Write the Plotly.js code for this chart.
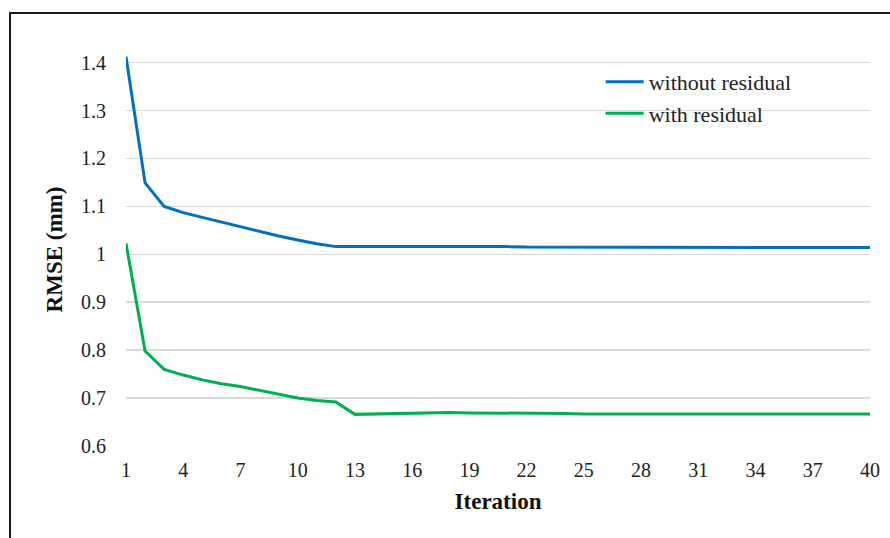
<!DOCTYPE html>
<html><head><meta charset="utf-8">
<script src="https://cdn.plot.ly/plotly-3.0.1.min.js"></script>
<style>html,body{margin:0;padding:0;background:#fff;}#chart{width:890px;height:538px;}</style>
</head><body><div id="chart"></div>
<script>
const iterations = Array.from({length: 40}, (_, i) => i + 1);
const withoutResidual = [1.412, 1.149, 1.100, 1.087, 1.077, 1.067, 1.057, 1.047, 1.038, 1.030, 1.022, 1.016,
  1.016, 1.017, 1.017, 1.017, 1.017, 1.017, 1.016, 1.016, 1.016, 1.015, 1.015, 1.014, 1.014, 1.014, 1.014, 1.014,
  1.014, 1.014, 1.014, 1.014, 1.014, 1.014, 1.014, 1.014, 1.014, 1.014, 1.014, 1.014];
const withResidual = [1.023, 0.798, 0.760, 0.748, 0.738, 0.730, 0.724, 0.716, 0.708, 0.700, 0.695, 0.692,
  0.666, 0.667, 0.668, 0.669, 0.670, 0.670, 0.669, 0.669, 0.669, 0.668, 0.668, 0.668, 0.667, 0.667, 0.667, 0.667,
  0.667, 0.667, 0.667, 0.667, 0.667, 0.667, 0.667, 0.667, 0.667, 0.667, 0.667, 0.667];
const xTicks = [1, 4, 7, 10, 13, 16, 19, 22, 25, 28, 31, 34, 37, 40];
const yTicks = [0.6, 0.7, 0.8, 0.9, 1.0, 1.1, 1.2, 1.3, 1.4];
const yTickText = ['0.6', '0.7', '0.8', '0.9', '1', '1.1', '1.2', '1.3', '1.4'];

const font = 'Liberation Serif, Times New Roman, serif';
const traces = [
  {x: iterations, y: withoutResidual, type: 'scatter', mode: 'lines', name: 'without residual',
   line: {color: '#0070C0', width: 3}},
  {x: iterations, y: withResidual, type: 'scatter', mode: 'lines', name: 'with residual',
   line: {color: '#00B050', width: 3}}
];
const layout = {
  width: 890, height: 538,
  margin: {l: 126, r: 20, t: 53, b: 92},
  paper_bgcolor: '#fff', plot_bgcolor: '#fff',
  font: {family: font, color: '#222', size: 20},
  showlegend: true,
  legend: {x: 0.638, y: 0.98, xanchor: 'left', yanchor: 'top', bgcolor: 'rgba(0,0,0,0)', itemwidth: 38,
           font: {family: font, size: 22, color: '#222'}, tracegroupgap: 0},
  xaxis: {range: [1, 40], tickvals: xTicks, ticktext: xTicks.map(String), showgrid: false, zeroline: false,
          showline: false, ticks: 'outside', ticklen: 6, tickcolor: 'rgba(0,0,0,0)',
          tickfont: {family: font, size: 20, color: '#222'},
          title: {text: '<b>Iteration</b>', font: {family: font, size: 23, color: '#111'}, standoff: 12}},
  yaxis: {range: [0.6, 1.42], tickvals: yTicks, ticktext: yTickText, showgrid: true, gridcolor: '#d9d9d9',
          gridwidth: 1.5, zeroline: false, showline: false, ticks: 'outside', ticklen: 15,
          tickcolor: 'rgba(0,0,0,0)',
          tickfont: {family: font, size: 20, color: '#222'},
          title: {text: '<b>RMSE (mm)</b>', font: {family: font, size: 23, color: '#111'}, standoff: 11}},
  shapes: [
    {type: 'rect', xref: 'paper', yref: 'paper', x0: -0.1559, x1: 1.2, y0: -0.4, y1: 1.102,
     line: {color: '#1a1a1a', width: 2}, fillcolor: 'rgba(0,0,0,0)', layer: 'above'}
  ]
};
Plotly.newPlot('chart', traces, layout, {displayModeBar: false, staticPlot: true});
</script></body></html>
